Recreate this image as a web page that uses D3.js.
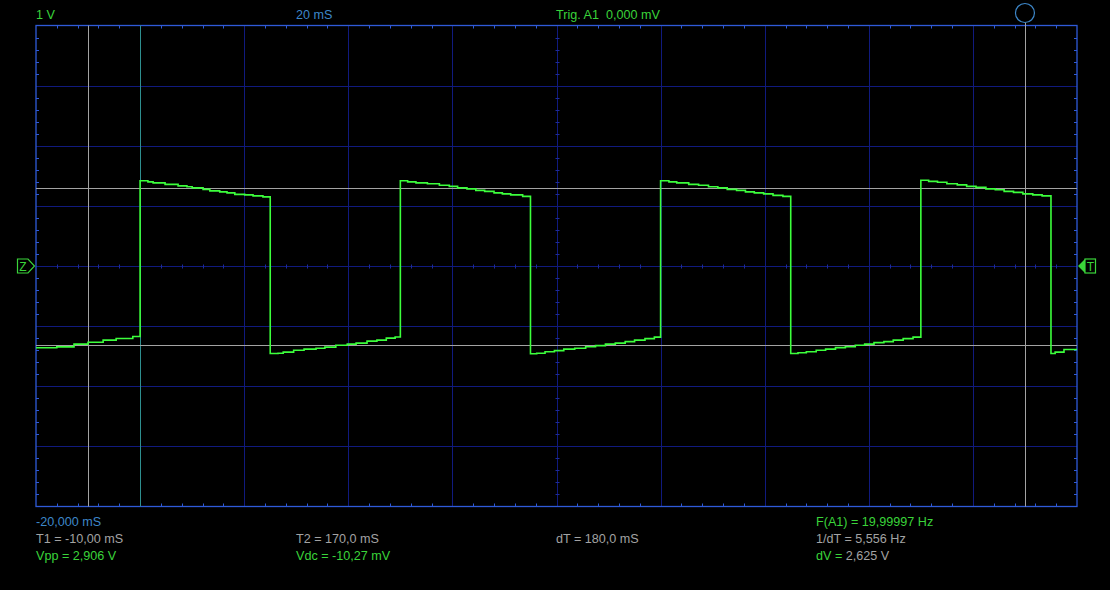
<!DOCTYPE html>
<html><head><meta charset="utf-8">
<script src="https://cdn.jsdelivr.net/npm/d3@7"></script>
<style>
html,body{margin:0;padding:0;background:#000;}
svg{display:block;}
text{font-family:"Liberation Sans",Arial,sans-serif;}
</style></head>
<body>
<svg id="chart" width="1110" height="590"></svg>
<script>
// ---- data ----
const timeDomainMs = [-20, 180];          // 20 mS / div, 10 divisions
const voltDomain = [-4, 4];               // 1 V / div, 8 divisions
const xGridMs = [-20, 0, 20, 40, 60, 80, 100, 120, 140, 160, 180];
const yGridV = [-4, -3, -2, -1, 0, 1, 2, 3, 4];
const cursorT = [-10, 170];               // T1, T2
const cursorV = [1.305, -1.32];           // dV = 2,625 V
const triggerTimeMs = 0;
const triggerLevelV = 0;
const refLevelV = 0;

const traceTimeMs = [
  -20,-16.0,-12.7,-10.0,-7.1,-4.6,-1.4,
  0,1.5,2.5,4.8,7.3,9.0,10.0,12.1,13.4,15.3,16.7,18.2,20.1,21.7,23.6,
  25,26.5,27.5,29.5,31.5,33.8,35.5,37.6,39.8,41.5,43.6,45.5,47.3,49.0,
  50,51.4,53.0,55.2,57.5,59.4,61.0,62.8,64.5,66.2,68.0,69.6,71.2,73.5,
  75,76.2,77.8,79.6,81.4,83.5,85.6,87.5,89.4,91.3,93.2,95.0,97.0,98.8,
  100,101.6,103.1,105.4,107.3,109.2,111.0,112.8,114.6,116.3,118.0,119.8,121.6,123.5,
  125,126.4,128.0,129.9,131.7,133.6,135.5,137.4,139.2,141.0,142.9,144.7,146.6,148.5,
  150,151.5,153.2,155.0,157.0,158.8,160.6,162.5,164.3,166.0,167.8,169.6,171.5,173.3,
  175,175.8,177.5,180
];
const traceVolts = [
  -1.36,-1.345,-1.30,-1.267,-1.233,-1.205,-1.172,
  1.417,1.40,1.383,1.358,1.333,1.317,1.30,1.275,1.25,1.233,1.217,1.192,1.183,1.167,1.15,
  -1.455,-1.45,-1.433,-1.40,-1.383,-1.367,-1.35,-1.317,-1.30,-1.283,-1.25,-1.233,-1.20,-1.18,
  1.417,1.40,1.383,1.367,1.342,1.325,1.30,1.283,1.258,1.242,1.217,1.20,1.183,1.158,
  -1.46,-1.45,-1.425,-1.408,-1.383,-1.367,-1.342,-1.325,-1.30,-1.283,-1.258,-1.233,-1.208,-1.183,
  1.417,1.40,1.383,1.358,1.342,1.317,1.30,1.275,1.258,1.233,1.217,1.20,1.175,1.158,
  -1.455,-1.442,-1.425,-1.40,-1.383,-1.358,-1.342,-1.317,-1.30,-1.275,-1.258,-1.233,-1.208,-1.183,
  1.425,1.408,1.392,1.367,1.35,1.325,1.308,1.283,1.267,1.242,1.225,1.20,1.183,1.167,
  -1.455,-1.433,-1.39,-1.39
];

const headerTexts = ["1 V", "20 mS", "Trig. A1  0,000 mV"];
const footerLeft = ["-20,000 mS", "T1 = -10,00 mS", "Vpp = 2,906 V"];
const footerMid = ["T2 = 170,0 mS", "Vdc = -10,27 mV"];
const footerDt = ["dT = 180,0 mS"];
const footerRight = ["F(A1) = 19,99997 Hz", "1/dT = 5,556 Hz"];
const dvLabel = ["dV = ", "2,625 V"];

// ---- drawing ----
const svg = d3.select("#chart");
svg.append("rect").attr("width",1110).attr("height",590).attr("fill","#000");

const L = 36, R = 1077, T = 25.5, B = 506.5;
const x = d3.scaleLinear().domain(timeDomainMs).range([L, R]);
const y = d3.scaleLinear().domain(voltDomain).range([B, T]);

const gridCol = "#101a7e", tickCol = "#1c2a9c", borderCol = "#2f5ad8";
const green = "#3ad43a", grey = "#a3a3a3", blue = "#3d87c9";

const g = svg.append("g");
// inner grid
g.selectAll(".vg").data(xGridMs.slice(1,-1)).join("line")
  .attr("x1", d=>Math.round(x(d))+0.5).attr("x2", d=>Math.round(x(d))+0.5)
  .attr("y1", T).attr("y2", B).attr("stroke", gridCol).attr("stroke-width",1);
g.selectAll(".hg").data(yGridV.slice(1,-1)).join("line")
  .attr("y1", d=>Math.round(y(d))+0.5).attr("y2", d=>Math.round(y(d))+0.5)
  .attr("x1", L).attr("x2", R).attr("stroke", gridCol).attr("stroke-width",1);

// minor ticks (1/5 div) on borders and centre axes
const minorX = d3.range(0, 50).map(i => timeDomainMs[0] + i*4).filter(v=>v%20!==0);
const minorY = d3.range(0, 40).map(i => voltDomain[0] + i*0.2).filter(v=>Math.abs(v-Math.round(v))>1e-6);
const tk = 3;
const cx = Math.round(x(80))+0.5, cy = Math.round(y(0))+0.5;
const ticks = [];
minorX.forEach(v => {
  const xx = Math.round(x(v))+0.5;
  ticks.push([xx, T, xx, T+tk, borderCol]);
  ticks.push([xx, B-tk, xx, B, borderCol]);
  ticks.push([xx, cy-2, xx, cy+2, tickCol]);
});
minorY.forEach(v => {
  const yy = Math.round(y(v))+0.5;
  ticks.push([L, yy, L+tk, yy, borderCol]);
  ticks.push([R-tk, yy, R, yy, borderCol]);
  ticks.push([cx-2, yy, cx+2, yy, tickCol]);
});
g.selectAll(".tk").data(ticks).join("line")
  .attr("x1",d=>d[0]).attr("y1",d=>d[1]).attr("x2",d=>d[2]).attr("y2",d=>d[3])
  .attr("stroke", d=>d[4]).attr("stroke-width",1);

// border
g.append("rect").attr("x", L).attr("y", T).attr("width", R-L).attr("height", B-T)
  .attr("fill","none").attr("stroke", borderCol).attr("stroke-width", 1.3);

// trigger time line
g.append("line").attr("x1", Math.round(x(triggerTimeMs))+0.5).attr("x2", Math.round(x(triggerTimeMs))+0.5)
  .attr("y1", T).attr("y2", B).attr("stroke", "#2e8f8f").attr("stroke-width",1);

// cursors
g.selectAll(".ct").data(cursorT).join("line")
  .attr("x1", d=>Math.round(x(d))+0.5).attr("x2", d=>Math.round(x(d))+0.5)
  .attr("y1", (d,i)=> i===1 ? 22.5 : T).attr("y2", B)
  .attr("stroke", grey).attr("stroke-width",1);
g.selectAll(".cv").data(cursorV).join("line")
  .attr("y1", d=>Math.round(y(d))+0.5).attr("y2", d=>Math.round(y(d))+0.5)
  .attr("x1", L).attr("x2", R).attr("stroke", grey).attr("stroke-width",1);

// circle handle above T2
g.append("circle").attr("cx", x(cursorT[1])).attr("cy", 13).attr("r", 9.5)
  .attr("fill","none").attr("stroke", blue).attr("stroke-width",1.2);

// trace
const pts = traceTimeMs.map((t,i)=>[t, traceVolts[i]]);
const line = d3.line().x(d=>x(d[0])).y(d=>y(d[1])).curve(d3.curveStepAfter);
g.append("path").attr("d", line(pts)).attr("fill","none")
  .attr("stroke", "#3cff3c").attr("stroke-width", 1.6);

// markers
const zy = y(refLevelV);
g.append("path").attr("d", `M17.5,${zy-7} H28 L34.5,${zy} L28,${zy+7} H17.5 Z`)
  .attr("fill","none").attr("stroke", green).attr("stroke-width",1.2);
g.append("text").attr("x", 23).attr("y", zy+4.5).attr("text-anchor","middle")
  .attr("fill", green).attr("font-size", 12).text("Z");
const ty = y(triggerLevelV);
g.append("path").attr("d", `M1078,${ty} L1085,${ty-7} L1085,${ty+7} Z`).attr("fill", green);
g.append("rect").attr("x", 1085).attr("y", ty-7).attr("width", 10.5).attr("height", 14)
  .attr("fill","none").attr("stroke", green).attr("stroke-width",1.2);
g.append("text").attr("x", 1090.5).attr("y", ty+4.5).attr("text-anchor","middle")
  .attr("fill", green).attr("font-size", 12).text("T");

// texts
const fs = 12.6;
const txt = (s, xx, yy, col) => svg.append("text").attr("x", xx).attr("y", yy)
  .attr("fill", col).attr("font-size", fs).text(s);
txt(headerTexts[0], 36, 19, green);
txt(headerTexts[1], 296, 19, blue);
txt(headerTexts[2], 556, 19, green).style("white-space","pre").attr("xml:space","preserve");

txt(footerLeft[0], 36, 526, blue);
txt(footerLeft[1], 36, 543, grey);
txt(footerLeft[2], 36, 560, green);
txt(footerMid[0], 296, 543, grey);
txt(footerMid[1], 296, 560, green);
txt(footerDt[0], 556, 543, grey);
txt(footerRight[0], 816, 526, green);
txt(footerRight[1], 816, 543, grey);
const dv = svg.append("text").attr("x", 816).attr("y", 560).attr("font-size", fs)
  .style("white-space","pre");
dv.append("tspan").attr("fill", green).text(dvLabel[0]);
dv.append("tspan").attr("fill", grey).text(dvLabel[1]);
</script>
</body></html>
